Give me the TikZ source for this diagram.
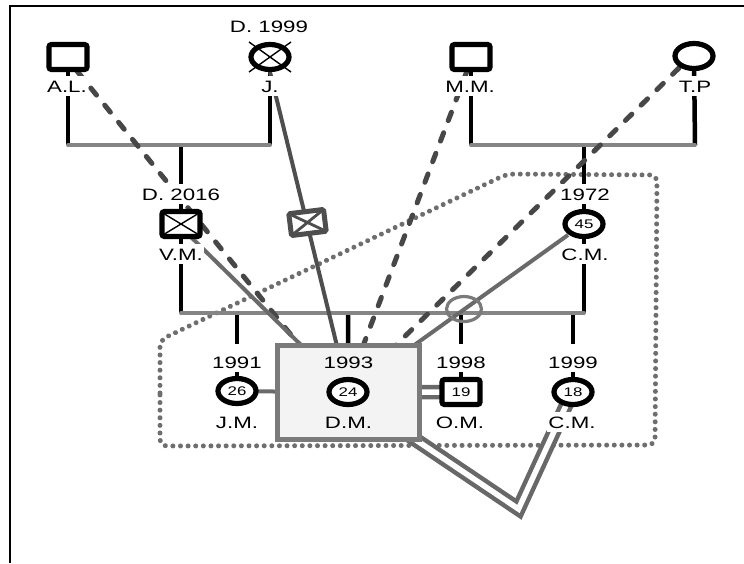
\documentclass[tikz,border=0pt]{standalone}
\usepackage{fontspec}
\setmainfont{Liberation Sans}[FakeStretch=1.35]
\usetikzlibrary{shapes.geometric,calc}
\pgfdeclarelayer{bg}
\pgfsetlayers{bg,main}
\definecolor{hgray}{HTML}{858585}
\definecolor{relsolid}{HTML}{6A6A6A}
\definecolor{reldark}{HTML}{4E4E4E}
\definecolor{reldash}{HTML}{474747}
\definecolor{dotgray}{HTML}{6E6E6E}
\definecolor{boxborder}{HTML}{7A7A7A}
\definecolor{boxfill}{HTML}{F3F3F3}
\definecolor{dblgray}{HTML}{686868}
\begin{document}
\begin{tikzpicture}[x=1pt,y=-1pt,
  sq/.style={rectangle, draw=black, line width=5.2pt, fill=white, rounded corners=2.5pt,
    minimum width=38pt, minimum height=25pt, inner sep=0pt, outer sep=0pt},
  ell/.style={ellipse, draw=black, line width=5.2pt, fill=white,
    minimum width=38pt, minimum height=25pt, inner sep=0pt, outer sep=0pt},
  num/.style={font=\fontsize{12.5}{14}\selectfont},
  lab/.style={fill=white, inner xsep=1pt, inner ysep=1.5pt, text height=15pt, text depth=2.5pt,
    anchor=base, font=\fontsize{16.5}{18}\selectfont},
  yr/.style={lab, text height=23pt},
  nolab/.style={inner xsep=1pt, inner ysep=1.5pt, anchor=base, font=\fontsize{16.5}{18}\selectfont},
  vline/.style={draw=black, line width=4.5pt},
  hline/.style={draw=hgray, line width=4pt, line cap=round},
  reldashed/.style={draw=reldash, line width=5pt, line cap=round, dash pattern=on 9pt off 13pt},
  relline/.style={draw=relsolid, line width=4pt},
  reldk/.style={draw=reldark, line width=4pt},
  dbl/.style={draw=dblgray, line width=4.5pt, double=white, double distance=5.5pt, line join=miter},
  dotted boundary/.style={draw=dotgray, line width=5pt, line cap=round, dash pattern=on 0.01pt off 7.6pt, rounded corners=7pt},
  dmboxstyle/.style={rectangle, draw=boxborder, fill=boxfill, line width=5pt,
    minimum width=142pt, minimum height=94pt, inner sep=0pt, outer sep=0pt},
  xmark/.style={draw=black, line width=1.4pt}
]
\useasboundingbox (0,0) rectangle (744,563);

% frame
\draw[line width=2pt] (10,563) -- (10,5.5) -- (744,5.5);

% ---------- nodes ----------
% generation 1
\node[sq] (al) at (68,57) {};
\node[ell] (j) at (270,57) {};
\node[sq] (mm) at (471,57) {};
\node[ell] (tp) at (694,56) {};
\node[lab] (lal) at (67,92) {A.L.};
\node[lab] (lj) at (270,92) {J.};
\node[lab] (lmm) at (470,92) {M.M.};
\node[lab] (ltp) at (695,92) {T.P};
\node[lab] (dj) at (269,32) {D. 1999};

% generation 2
\node[sq] (vm) at (181,224) {};
\node[ell,num] (cm) at (584,224) {45};
\node[lab] (dvm) at (181,200) {D. 2016};
\node[lab] (lvm) at (181,260) {V.M.};
\node[lab] (ycm) at (585,200) {1972};
\node[lab] (lcm) at (585,260) {C.M.};

% generation 3
\node[dmboxstyle] (dmbox) at (348.5,392.5) {};
\node[ell,num] (jm) at (237,391) {26};
\node[ell,num] (dm) at (348,392) {24};
\node[sq,num] (om) at (461,392) {19};
\node[ell,num] (cmc) at (573,392) {18};
\node[yr] (yjm) at (237,368) {1991};
\node[nolab] (ydm) at (348.5,368) {1993};
\node[yr] (yom) at (461,368) {1998};
\node[yr] (ycmc) at (573,368) {1999};
\node[lab] (ljm) at (237,428) {J.M.};
\node[nolab] (ldm) at (348.5,428) {D.M.};
\node[lab] (lom) at (460,428) {O.M.};
\node[lab] (lcmc) at (572,428) {C.M.};

% markers on relationship lines
\node[rectangle, draw=reldark, fill=white, line width=5pt, rounded corners=1.5pt, rotate=7,
  minimum width=35pt, minimum height=22pt, inner sep=0pt, outer sep=0pt] (jmark) at (307.5,222.5) {};
\draw[draw=reldark, line width=2.8pt] (jmark.north west) -- (jmark.south east)
  (jmark.north east) -- (jmark.south west);
\node[ellipse, draw=boxborder, line width=3.2pt, minimum width=35pt, minimum height=25pt,
  inner sep=0pt] (cross) at (464,309) {};

% X marks for deceased
\draw[xmark] ([shift={(-16.5,-10)}]vm.center) -- ([shift={(16.5,10)}]vm.center)
  ([shift={(16.5,-10)}]vm.center) -- ([shift={(-16.5,10)}]vm.center);
\draw[xmark] ([shift={(-21,-15)}]j.center) -- ([shift={(21,15)}]j.center)
  ([shift={(21,-15)}]j.center) -- ([shift={(-21,15)}]j.center);

% ---------- coordinates ----------
\coordinate (alb) at (68,145);
\coordinate (jb) at (270,145);
\coordinate (vmt) at (181,145);
\coordinate (mmb) at (471,145);
\coordinate (tpb) at (695,145);
\coordinate (cmt) at (584,145);
\coordinate (sibL) at (181,313);
\coordinate (sibR) at (584,313);
\coordinate (c1) at (237,313);
\coordinate (c2) at (348,313);
\coordinate (c3) at (461,313);
\coordinate (c4) at (573,313);

\coordinate (alr) at (77,71);
\coordinate (alend) at (300,346);
\coordinate (mmr) at (467,71);
\coordinate (mmend) at (363,346);
\coordinate (tpr) at (679,68);
\coordinate (tpend) at (395,346);
\coordinate (jstart) at (270,72);
\coordinate (jend) at (337,346);
\coordinate (vmr) at (190,236);
\coordinate (vmend) at (302,346);
\coordinate (cmr) at (568,235);
\coordinate (cmend) at (413,346);
\coordinate (dmv) at (410,436);
\coordinate (vtx) at (518.5,509);
\coordinate (cmv) at (568.5,400);

% ---------- lines (background) ----------
\begin{pgfonlayer}{bg}
  % dotted household boundary
  \draw[dotted boundary] (160,400) -- (160,340) -- (507,174) -- (657,175) -- (655,445) -- (160,446) -- cycle;
  % family lines
  \draw[vline] (al) -- (alb);
  \draw[vline] (j) -- (jb);
  \draw[vline] (mm) -- (mmb);
  \draw[vline] (tp) -- (tpb);
  \draw[vline] (vmt) -- (vm);
  \draw[vline] (vm) -- (sibL);
  \draw[vline] (cmt) -- (cm);
  \draw[vline] (cm) -- (sibR);
  \draw[vline] (c1) -- (jm);
  \draw[vline] (c2) -- (dmbox);
  \draw[vline] (c3) -- (om);
  \draw[vline] (c4) -- (cmc);
  \draw[hline] (alb) -- (jb);
  \draw[hline] (mmb) -- (tpb);
  \draw[hline] (sibL) -- (sibR);
  % relationship lines
  \draw[reldashed] (alr) -- (alend);
  \draw[reldashed] (mmr) -- (mmend);
  \draw[reldashed] (tpr) -- (tpend);
  \draw[reldk] (jstart) -- (jend);
  \draw[relline] (vmr) -- (vmend);
  \draw[relline] (cmr) -- (cmend);
  \draw[relline] (jm) -- (dmbox);
  \draw[dbl] (dmbox) -- (om);
  \draw[dbl] (dmv) -- (vtx) -- (cmv);
\end{pgfonlayer}
\end{tikzpicture}
\end{document}
